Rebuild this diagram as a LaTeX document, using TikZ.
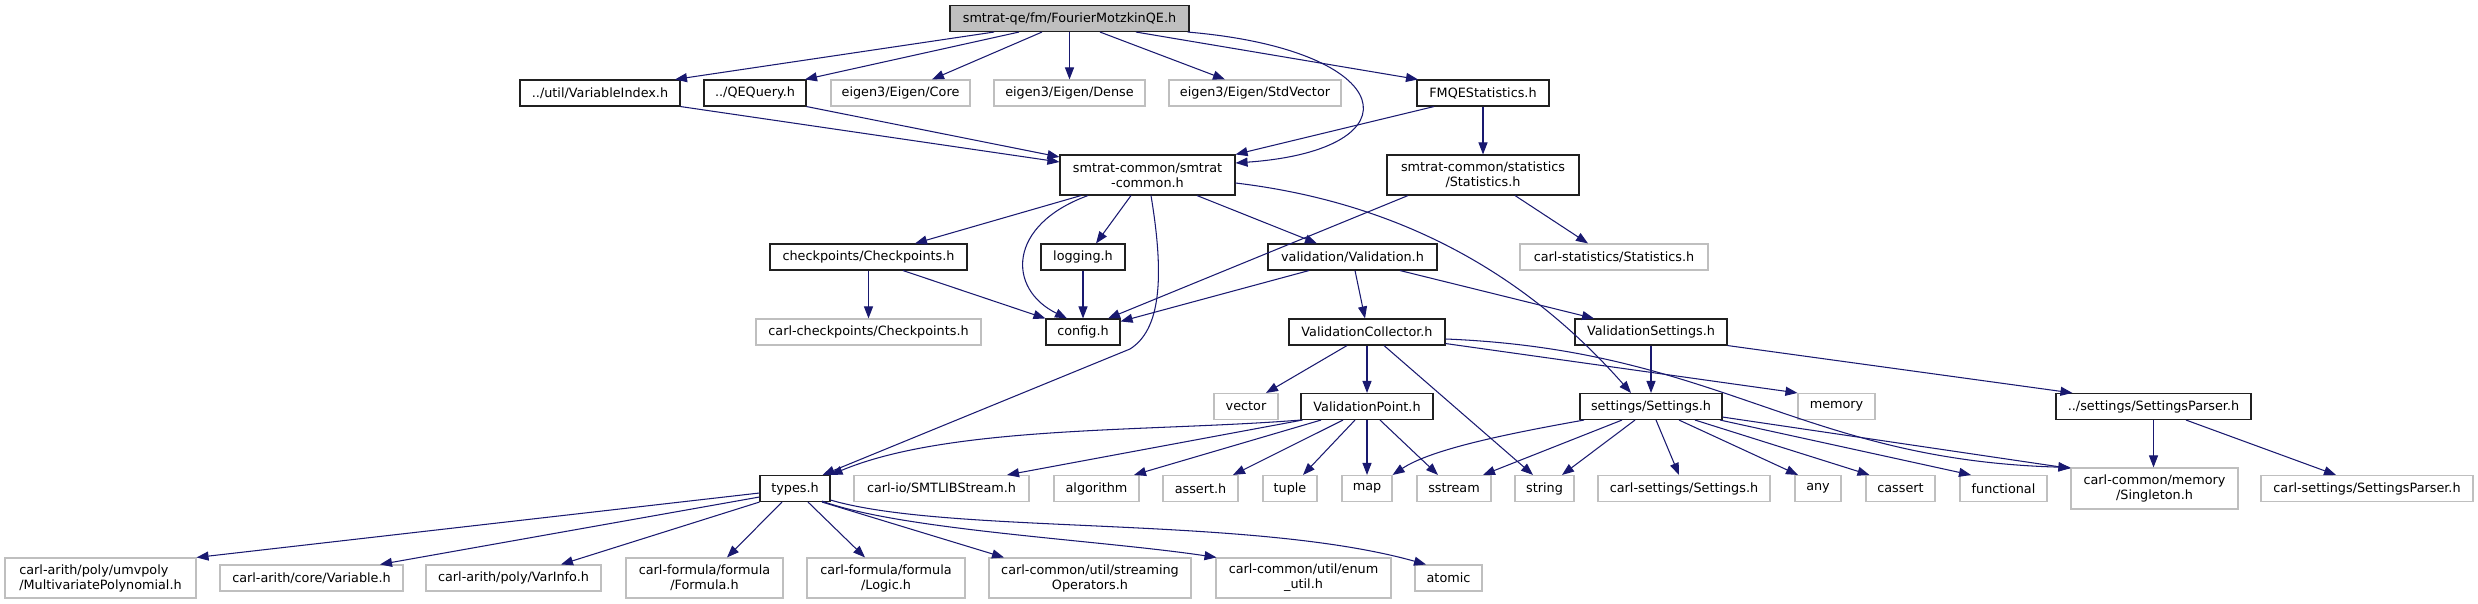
\documentclass[tikz,border=0pt]{standalone}
\usepackage{fontspec}
\setmainfont{DejaVu Sans}
\usetikzlibrary{arrows.meta,calc}
\definecolor{edgec}{HTML}{191970}
\definecolor{grayb}{HTML}{BFBFBF}
\definecolor{blkb}{HTML}{202020}
\begin{document}
\begin{tikzpicture}[x=1pt,y=1pt,
  box/.style={draw=blkb, line width=1.1pt, inner sep=0pt, align=center, font=\fontsize{12.8}{15}\selectfont},
  blk/.style={box},
  ext/.style={box, draw=grayb},
  mainbox/.style={box, fill=grayb},
  dep/.style={draw=edgec, line width=1.05pt, -{Triangle[length=12pt,width=9pt]}}]
\fill[white] (0,0) rectangle (2478,-604);
\useasboundingbox (0,0) rectangle (2478,-604);
% row 1
\node[mainbox, minimum width=239pt, minimum height=26pt] (main) at (1069.5,-18.5) {smtrat-qe/fm/FourierMotzkinQE.h};
% row 2
\node[blk, minimum width=160pt, minimum height=26pt] (vidx) at (600,-93) {../util/VariableIndex.h};
\node[blk, minimum width=102pt, minimum height=26pt] (qeq) at (755,-93) {../QEQuery.h};
\node[ext, minimum width=139pt, minimum height=26pt] (core) at (900.5,-93) {eigen3/Eigen/Core};
\node[ext, minimum width=151pt, minimum height=26pt] (dense) at (1069.5,-93) {eigen3/Eigen/Dense};
\node[ext, minimum width=172pt, minimum height=26pt] (stdvec) at (1255,-93) {eigen3/Eigen/StdVector};
\node[blk, minimum width=132pt, minimum height=26pt] (fmqe) at (1483,-93) {FMQEStatistics.h};
% row 3
\node[blk, minimum width=175pt, minimum height=40pt] (common) at (1147.5,-175) {smtrat-common/smtrat\\-common.h};
\node[blk, minimum width=192pt, minimum height=40pt] (stats) at (1483,-175) {smtrat-common/statistics\\/Statistics.h};
% row 4
\node[blk, minimum width=197pt, minimum height=26pt] (ckpt) at (868.5,-257) {checkpoints/Checkpoints.h};
\node[blk, minimum width=84pt, minimum height=26pt] (logging) at (1083,-257) {logging.h};
\node[blk, minimum width=169pt, minimum height=26pt] (valid) at (1352.5,-257) {validation/Validation.h};
\node[ext, minimum width=188pt, minimum height=26pt] (carlstats) at (1614,-257) {carl-statistics/Statistics.h};
% row 5
\node[ext, minimum width=225pt, minimum height=26pt] (carlckpt) at (868.5,-332) {carl-checkpoints/Checkpoints.h};
\node[blk, minimum width=74pt, minimum height=26pt] (config) at (1083,-332) {config.h};
\node[blk, minimum width=156pt, minimum height=26pt] (vcoll) at (1367,-332) {ValidationCollector.h};
\node[blk, minimum width=152pt, minimum height=26pt] (vset) at (1651,-332) {ValidationSettings.h};
% row 6
\node[ext, minimum width=64pt, minimum height=26pt] (vector) at (1246,-406.5) {vector};
\node[blk, minimum width=132pt, minimum height=26pt] (vpoint) at (1367,-406.5) {ValidationPoint.h};
\node[blk, minimum width=142pt, minimum height=26pt] (settings) at (1651,-406.5) {settings/Settings.h};
\node[ext, minimum width=77pt, minimum height=26pt] (memory) at (1836.5,-406.5) {memory};
\node[blk, minimum width=195pt, minimum height=26pt] (sparser) at (2153.5,-406.5) {../settings/SettingsParser.h};
% row 7
\node[blk, minimum width=70pt, minimum height=26pt] (types) at (795,-488.5) {types.h};
\node[ext, minimum width=175pt, minimum height=26pt] (smtlib) at (941.5,-488.5) {carl-io/SMTLIBStream.h};
\node[ext, minimum width=85pt, minimum height=26pt] (algorithm) at (1096.5,-488.5) {algorithm};
\node[ext, minimum width=75pt, minimum height=26pt] (assert) at (1200.5,-488.5) {assert.h};
\node[ext, minimum width=54pt, minimum height=26pt] (tuple) at (1290,-488.5) {tuple};
\node[ext, minimum width=50pt, minimum height=26pt] (map) at (1367,-488.5) {map};
\node[ext, minimum width=74pt, minimum height=26pt] (sstream) at (1454,-488.5) {sstream};
\node[ext, minimum width=59pt, minimum height=26pt] (string) at (1544.5,-488.5) {string};
\node[ext, minimum width=172pt, minimum height=26pt] (csettings) at (1684,-488.5) {carl-settings/Settings.h};
\node[ext, minimum width=46pt, minimum height=26pt] (any) at (1818,-488.5) {any};
\node[ext, minimum width=69pt, minimum height=26pt] (cassert) at (1900.5,-488.5) {cassert};
\node[ext, minimum width=87pt, minimum height=26pt] (functional) at (2003.5,-488.5) {functional};
\node[ext, minimum width=167pt, minimum height=41pt] (singleton) at (2154.5,-488.5) {carl-common/memory\\/Singleton.h};
\node[ext, minimum width=212pt, minimum height=26pt] (csparser) at (2367,-488.5) {carl-settings/SettingsParser.h};
% row 8
\node[ext, align=left, minimum width=191pt, minimum height=40pt] (mvpoly) at (100.5,-578) {carl-arith/poly/umvpoly\\/MultivariatePolynomial.h};
\node[ext, minimum width=183pt, minimum height=26pt] (cvar) at (311.5,-578) {carl-arith/core/Variable.h};
\node[ext, minimum width=175pt, minimum height=26pt] (varinfo) at (513.5,-578) {carl-arith/poly/VarInfo.h};
\node[ext, minimum width=157pt, minimum height=40pt] (formula) at (704.5,-578) {carl-formula/formula\\/Formula.h};
\node[ext, minimum width=158pt, minimum height=40pt] (logic) at (886,-578) {carl-formula/formula\\/Logic.h};
\node[ext, minimum width=202pt, minimum height=40pt] (streamop) at (1090,-578) {carl-common/util/streaming\\Operators.h};
\node[ext, minimum width=175pt, minimum height=40pt] (enumutil) at (1303.5,-578) {carl-common/util/enum\\\_util.h};
\node[ext, minimum width=67pt, minimum height=26pt] (atomic) at (1448.5,-578) {atomic};
% edges from main
\draw[dep] ([xshift=-75.5pt]main.south) -- ([xshift=75pt]vidx.north);
\draw[dep] ([xshift=-50.5pt]main.south) -- ([xshift=50pt]qeq.north);
\draw[dep] ([xshift=-27.5pt]main.south) -- ([xshift=31.5pt]core.north);
\draw[dep] (main.south) -- (dense.north);
\draw[dep] ([xshift=30.5pt]main.south) -- ([xshift=-30pt]stdvec.north);
\draw[dep] ([xshift=66.5pt]main.south) -- ([xshift=-65pt]fmqe.north);
\draw[dep] ([xshift=-2pt]main.south east) .. controls (1400,-50) and (1420,-150) .. ([yshift=12pt]common.east);
% row 2
\draw[dep] (vidx.south east) -- ([yshift=13pt]common.west);
\draw[dep] (qeq.south east) -- ([yshift=18pt]common.west);
\draw[dep] ([xshift=-49pt]fmqe.south) -- (common.north east);
\draw[dep] (fmqe.south) -- (stats.north);
% common
\draw[dep] ([xshift=-66.5pt]common.south) -- ([xshift=46.5pt]ckpt.north);
\draw[dep] ([xshift=-59.5pt]common.south) .. controls (1007,-225) and (1007,-289) .. ([xshift=-16pt]config.north);
\draw[dep] ([xshift=-16.5pt]common.south) -- ([xshift=13pt]logging.north);
\draw[dep] ([xshift=3.5pt]common.south) .. controls (1165,-280) and (1160,-330) .. (1130,-349) -- ([xshift=-8pt]types.north east);
\draw[dep] ([xshift=49.5pt]common.south) -- ([xshift=-35.5pt]valid.north);
\draw[dep] ([yshift=-8pt]common.east) .. controls (1420,-205) and (1540,-290) .. ([xshift=-20pt]settings.north);
% stats
\draw[dep] ([xshift=-75pt]stats.south) -- ([xshift=25pt]config.north);
\draw[dep] ([xshift=32pt]stats.south) -- ([xshift=-26pt]carlstats.north);
% row 4
\draw[dep] (ckpt.south) -- (carlckpt.north);
\draw[dep] ([xshift=34.5pt]ckpt.south) -- (config.north west);
\draw[dep] (logging.south) -- (config.north);
\draw[dep] ([xshift=-43.5pt]valid.south) -- ([yshift=-3pt]config.north east);
\draw[dep] ([xshift=2.5pt]valid.south) -- ([xshift=-2pt]vcoll.north);
\draw[dep] ([xshift=47.5pt]valid.south) -- ([xshift=-57pt]vset.north);
% vcoll
\draw[dep] ([xshift=-20pt]vcoll.south) -- ([xshift=20pt]vector.north);
\draw[dep] (vcoll.south) -- (vpoint.north);
\draw[dep] ([xshift=17pt]vcoll.south) -- ([xshift=-11.5pt]string.north);
\draw[dep] ([yshift=2pt]vcoll.south east) -- (memory.north west);
\draw[dep] ([yshift=-7pt]vcoll.east) .. controls (1720,-350) and (1800,-460) .. (singleton.north west);
% vset
\draw[dep] (vset.south) -- (settings.north);
\draw[dep] (vset.south east) -- ([xshift=17pt]sparser.north west);
% vpoint
\draw[dep] (vpoint.south west) .. controls (1150,-432) and (950,-425) .. (types.north east);
\draw[dep] ([xshift=2pt]vpoint.south west) -- ([xshift=65.5pt]smtlib.north);
\draw[dep] ([xshift=-46pt]vpoint.south) -- ([xshift=37.5pt]algorithm.north);
\draw[dep] ([xshift=-24pt]vpoint.south) -- ([xshift=32.5pt]assert.north);
\draw[dep] ([xshift=-12pt]vpoint.south) -- ([xshift=13pt]tuple.north);
\draw[dep] (vpoint.south) -- (map.north);
\draw[dep] ([xshift=13pt]vpoint.south) -- ([xshift=-16pt]sstream.north);
% settings
\draw[dep] ([xshift=-67pt]settings.south) .. controls (1500,-435) and (1430,-450) .. (map.north east);
\draw[dep] ([xshift=-29pt]settings.south) -- ([xshift=29pt]sstream.north);
\draw[dep] ([xshift=-16pt]settings.south) -- ([xshift=17.5pt]string.north);
\draw[dep] ([xshift=5pt]settings.south) -- ([xshift=-5pt]csettings.north);
\draw[dep] ([xshift=28pt]settings.south) -- ([xshift=-20pt]any.north);
\draw[dep] ([xshift=44pt]settings.south) -- ([xshift=-31pt]cassert.north);
\draw[dep] ([xshift=69pt]settings.south) -- ([xshift=-32.5pt]functional.north);
\draw[dep] ([yshift=3pt]settings.south east) -- ([yshift=-1pt]singleton.north west);
% sparser
\draw[dep] (sparser.south) -- (sparser.south |- singleton.north);
\draw[dep] ([xshift=32.5pt]sparser.south) -- ([xshift=-31pt]csparser.north);
% types
\draw[dep] ([yshift=-4.5pt]types.west) -- (mvpoly.north east);
\draw[dep] ([yshift=-8.5pt]types.west) -- ([xshift=68.5pt]cvar.north);
\draw[dep] (types.south west) -- ([xshift=47.5pt]varinfo.north);
\draw[dep] ([xshift=-13pt]types.south) -- ([xshift=22.5pt]formula.north);
\draw[dep] ([xshift=13pt]types.south) -- ([xshift=-21pt]logic.north);
\draw[dep] ([xshift=27pt]types.south) -- ([xshift=-86pt]streamop.north);
\draw[dep] ([xshift=27pt,yshift=1pt]types.south) .. controls (900,-530) and (1100,-540) .. ([xshift=-87pt]enumutil.north);
\draw[dep] ([yshift=2pt]types.south east) .. controls (950,-535) and (1250,-515) .. ([xshift=-22.5pt]atomic.north);
\end{tikzpicture}
\end{document}
